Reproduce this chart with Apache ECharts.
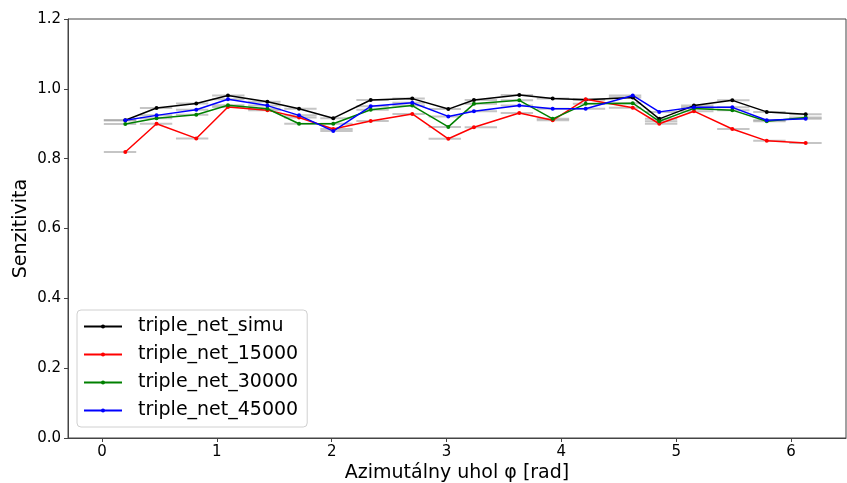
<!DOCTYPE html>
<html>
<head>
<meta charset="utf-8">
<script src="https://cdn.jsdelivr.net/npm/echarts@6/dist/echarts.min.js"></script>
<style>
html,body{margin:0;padding:0;background:#fff;}
#chart{width:847px;height:483px;}
</style>
</head>
<body>
<div id="chart"></div>
<script>
// Mean azimuth of each bin (x of the plotted points)
const pointX = [0.203, 0.475, 0.821, 1.097, 1.440, 1.716, 2.014, 2.340, 2.702, 3.016,
                3.239, 3.634, 3.925, 4.212, 4.622, 4.853, 5.155, 5.489, 5.789, 6.128];
// Bin centres and half-width of the grey horizontal error bars
const binCenters = [0.157, 0.471, 0.785, 1.100, 1.414, 1.728, 2.042, 2.356, 2.670, 2.985,
                    3.299, 3.613, 3.927, 4.241, 4.555, 4.869, 5.184, 5.498, 5.812, 6.126];
const binHalfWidth = 0.141;

const seriesNames = ['triple_net_simu', 'triple_net_15000', 'triple_net_30000', 'triple_net_45000'];
const simu  = [0.910, 0.945, 0.958, 0.981, 0.963, 0.943, 0.916, 0.968, 0.972, 0.942,
               0.968, 0.982, 0.972, 0.969, 0.975, 0.914, 0.952, 0.967, 0.934, 0.927];
const net15 = [0.819, 0.900, 0.858, 0.948, 0.939, 0.918, 0.885, 0.908, 0.928, 0.857,
               0.890, 0.931, 0.910, 0.970, 0.946, 0.900, 0.936, 0.885, 0.851, 0.845];
const net30 = [0.899, 0.916, 0.926, 0.953, 0.943, 0.900, 0.900, 0.940, 0.952, 0.891,
               0.957, 0.967, 0.914, 0.957, 0.959, 0.907, 0.944, 0.939, 0.907, 0.918];
const net45 = [0.910, 0.924, 0.940, 0.970, 0.952, 0.924, 0.879, 0.950, 0.960, 0.921,
               0.936, 0.952, 0.943, 0.943, 0.981, 0.934, 0.947, 0.947, 0.910, 0.914];
const seriesColors = ['#000000', '#ff0000', '#008000', '#0000ff'];

const xTicks = [0, 1, 2, 3, 4, 5, 6];
const yTicks = [0.0, 0.2, 0.4, 0.6, 0.8, 1.0, 1.2];

const allValues = [simu, net15, net30, net45];
const FONT = 'DejaVu Sans';

const chart = echarts.init(document.getElementById('chart'), null, {renderer: 'canvas'});

const series = [];
// grey horizontal bars (x error bars)
allValues.forEach((vals, si) => {
  series.push({
    type: 'custom',
    name: 'err_' + si,
    silent: true,
    z: 1,
    data: vals.map((v, i) => [binCenters[i], v]),
    renderItem: function (params, api) {
      const xc = api.value(0), y = api.value(1);
      const p1 = api.coord([xc - binHalfWidth, y]);
      const p2 = api.coord([xc + binHalfWidth, y]);
      return {
        type: 'line',
        shape: {x1: p1[0], y1: p1[1], x2: p2[0], y2: p2[1]},
        style: {stroke: 'rgba(150,150,150,0.55)', lineWidth: 2}
      };
    }
  });
});
allValues.forEach((vals, si) => {
  series.push({
    type: 'line',
    name: seriesNames[si],
    z: 5,
    data: vals.map((v, i) => [pointX[i], v]),
    symbol: 'circle',
    symbolSize: 4,
    showSymbol: true,
    itemStyle: {color: seriesColors[si]},
    lineStyle: {color: seriesColors[si], width: 1.5},
    emphasis: {disabled: true}
  });
});

chart.setOption({
  animation: false,
  backgroundColor: '#ffffff',
  grid: {
    left: 68, top: 19, right: 1, bottom: 45,
    outerBoundsMode: 'none',
    show: true, borderColor: '#444', borderWidth: 1, backgroundColor: 'transparent',
    containLabel: false
  },
  xAxis: {
    type: 'value',
    min: -0.296, max: 6.479,
    name: 'Azimutálny uhol φ [rad]',
    nameLocation: 'middle',
    nameGap: 26,
    nameMoveOverlap: false,
    nameTextStyle: {fontFamily: FONT, fontSize: 19, color: '#000'},
    axisLine: {show: true, onZero: false, lineStyle: {color: '#444', width: 1}},
    axisTick: {show: true, length: 4, customValues: xTicks, lineStyle: {color: '#444'}},
    axisLabel: {customValues: xTicks, margin: 7, fontFamily: FONT, fontSize: 15, color: '#000',
                formatter: v => String(v)},
    splitLine: {show: false}
  },
  yAxis: {
    type: 'value',
    min: 0, max: 1.2, interval: 0.2,
    name: 'Senzitivita',
    nameLocation: 'middle',
    nameRotate: 90,
    nameGap: 37,
    nameMoveOverlap: false,
    nameTextStyle: {fontFamily: FONT, fontSize: 19, color: '#000'},
    axisLine: {show: true, onZero: false, lineStyle: {color: '#444', width: 1}},
    axisTick: {show: true, length: 4, customValues: yTicks, lineStyle: {color: '#444'}},
    axisLabel: {customValues: yTicks, margin: 7, fontFamily: FONT, fontSize: 15, color: '#000',
                formatter: v => v.toFixed(1)},
    splitLine: {show: false}
  },
  legend: {
    data: seriesNames,
    orient: 'vertical',
    left: 77, top: 310,
    padding: [7, 9, 7, 6],
    itemWidth: 38,
    itemHeight: 5,
    itemGap: 9,
    backgroundColor: 'rgba(255,255,255,0.85)',
    borderColor: '#d0d0d0',
    borderWidth: 1,
    borderRadius: 4,
    textStyle: {fontFamily: FONT, fontSize: 19, lineHeight: 19, color: '#000', padding: [0, 0, 0, 11]},
    itemStyle: {borderWidth: 0}
  },
  series: series
});
</script>
</body>
</html>
